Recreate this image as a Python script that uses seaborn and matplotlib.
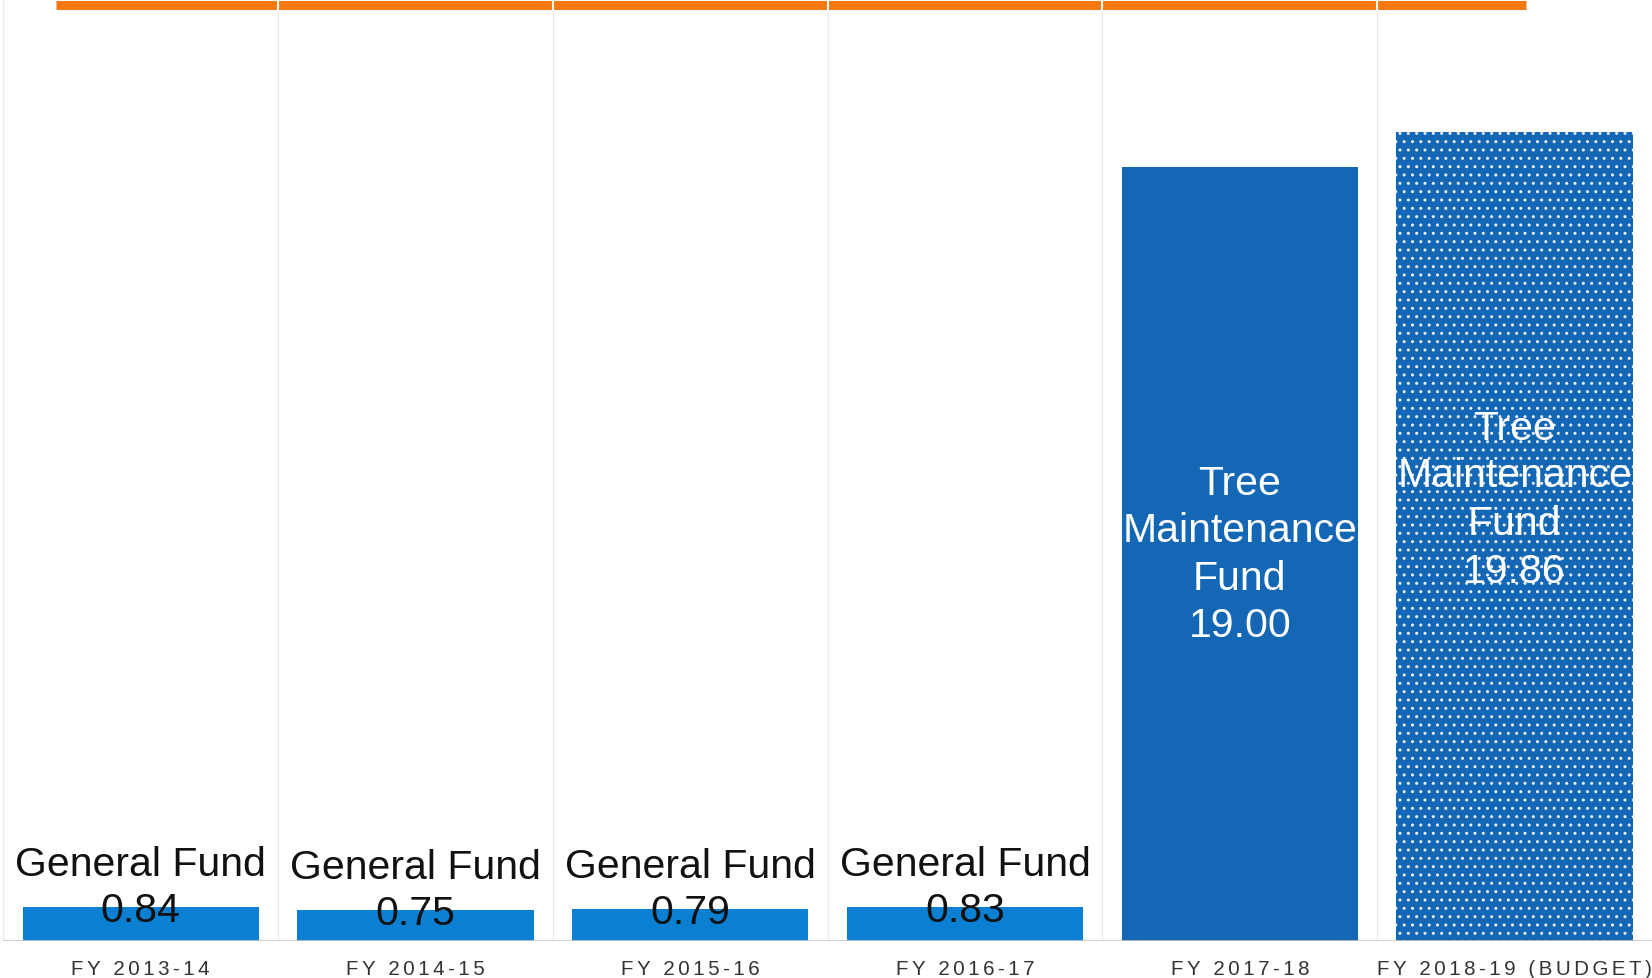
import matplotlib
matplotlib.use("Agg")
import matplotlib.pyplot as plt
import seaborn as sns

# Data
years = ["FY 2013-14", "FY 2014-15", "FY 2015-16", "FY 2016-17", "FY 2017-18", "FY 2018-19 (BUDGET)"]
funds = ["General Fund", "General Fund", "General Fund", "General Fund",
         "Tree\nMaintenance\nFund", "Tree\nMaintenance\nFund"]
amounts = [0.84, 0.75, 0.79, 0.83, 19.00, 19.86]
bar_colors = ["#0b7fd1", "#0b7fd1", "#0b7fd1", "#0b7fd1", "#1467b5", "#1467b5"]
# vertical placement of the in-bar labels, as a share of the bar height
label_share = [1.0, 1.0, 1.0, 1.0, 0.50, 0.546]
# orange reference line across the top
orange_level = 22.97
orange_span = (-0.31, 5.04)

sns.set_theme(style="white")
plt.rcParams['font.family'] = ['Liberation Sans', 'DejaVu Sans']

fig = plt.figure(figsize=(16.52, 9.79), dpi=100)
ax = fig.add_axes([0.002, 37 / 979, 0.998, 942 / 979])

sns.barplot(x=years, y=amounts, hue=years, palette=bar_colors, legend=False,
            width=0.86, saturation=1, ax=ax, zorder=3)

# dotted fill on the budget bar
budget = ax.patches[5]
budget.set_hatch("..")
budget.set_edgecolor("#e8f0fa")
budget.set_linewidth(0)
for p in ax.patches[:5]:
    p.set_linewidth(0)

ax.set_xlim(-0.5, len(years) - 0.5)
ax.set_ylim(0, 942 / 40.74)

# faint column separators and baseline
for i in range(len(years)):
    ax.axvline(i - 0.5, color="#ececec", lw=1, zorder=1)
ax.axhline(0, color="#c8c8c8", lw=1.2, zorder=4)

ax.hlines(orange_level, orange_span[0], orange_span[1], color="#f5790f", lw=6.5, zorder=2)
for i in range(1, len(years)):
    ax.vlines(i - 0.5, orange_level - 0.15, orange_level + 0.15, color="white", lw=1.5, zorder=2.5)

for i, (f, v) in enumerate(zip(funds, amounts)):
    if v < 5:
        ax.annotate(f"{v:.2f}", (i, v), xytext=(0, -2), textcoords="offset points",
                    ha="center", va="center", fontsize=29.5, color="#111111", zorder=5)
        ax.annotate(f, (i, v), xytext=(0, 31), textcoords="offset points",
                    ha="center", va="center", fontsize=29.5, color="#111111", zorder=5)
    else:
        ax.text(i, v * label_share[i], f"{f}\n{v:.2f}", ha="center", va="center",
                fontsize=29.5, color="white", linespacing=1.32, zorder=5)

# letter-spaced category labels
spaced = ["\u200a\u200a".join(y) for y in years]
ax.set_xticks(range(len(years)))
ax.set_xticklabels(spaced, fontsize=14.8, color="#333333")
ax.tick_params(axis="x", length=0, pad=13)
ax.set_yticks([])
ax.set_xlabel("")
ax.set_ylabel("")
for s in ax.spines.values():
    s.set_visible(False)

fig.savefig("out.png", dpi=100)
